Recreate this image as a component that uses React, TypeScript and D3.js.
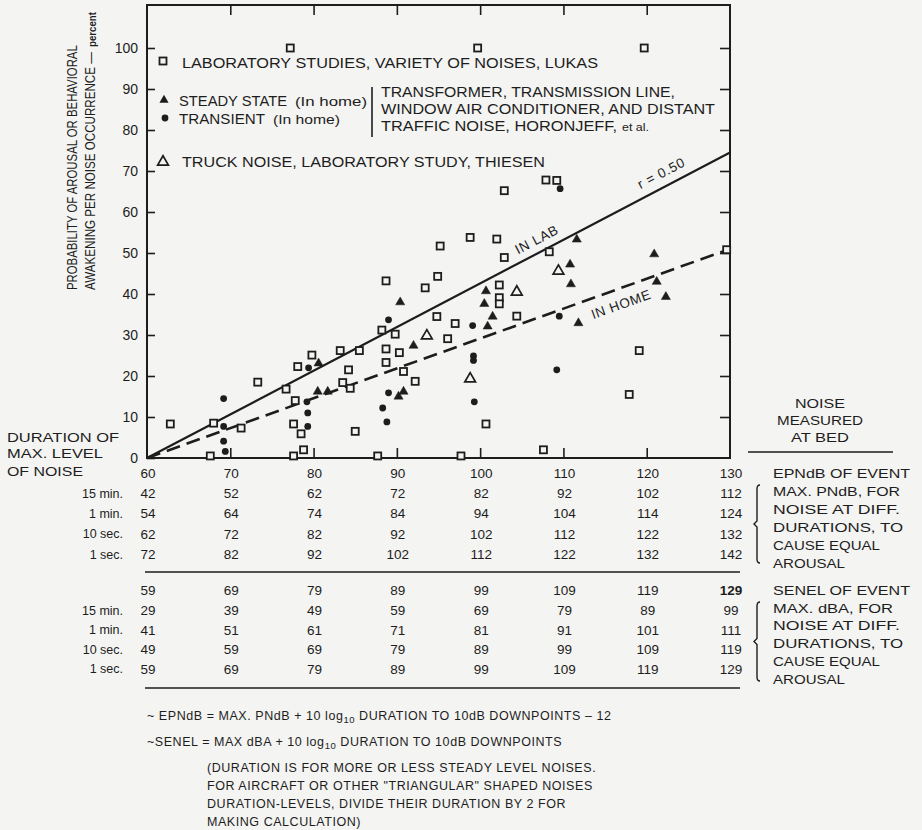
import React, { useEffect, useRef } from 'react';
import * as d3 from 'd3';

const width = 922;
const height = 830;

// EPNdB of event (x) vs. percent aroused (y)
const lukasLab: [number, number][] = [
  [62.8, 8.3], [68.0, 8.5], [71.3, 7.3], [73.3, 18.5], [76.7, 16.8], [77.8, 14.0], [78.1, 22.3],
  [77.6, 8.3], [78.5, 5.9], [78.8, 2.0], [79.8, 25.1], [83.2, 26.2], [84.2, 21.5], [83.5, 18.4],
  [84.4, 17.0], [85.0, 6.5], [85.5, 26.2], [88.7, 43.2], [88.2, 31.2], [88.7, 26.6], [88.7, 23.3],
  [89.8, 30.2], [90.3, 25.7], [90.8, 21.1], [92.2, 18.7], [93.4, 41.5], [94.9, 44.3], [94.8, 34.5],
  [95.2, 51.7], [97.0, 32.8], [96.1, 29.1], [98.8, 53.8], [102.0, 53.4], [102.9, 48.9], [102.3, 42.2],
  [102.3, 39.1], [102.3, 37.6], [104.4, 34.6], [100.7, 8.3], [67.6, 0.5], [77.6, 0.5], [87.7, 0.5],
  [97.7, 0.5], [102.9, 65.2], [107.9, 67.8], [109.2, 67.7], [108.3, 50.3], [119.1, 26.2], [117.9, 15.5],
  [107.6, 2.0], [77.2, 100], [99.7, 100], [119.7, 100], [129.6, 50.8],
];
const steadyHome: [number, number][] = [
  [80.6, 23.1], [80.5, 16.2], [81.7, 16.2], [90.4, 38.0], [92.0, 27.4], [90.8, 16.2], [90.2, 15.0],
  [100.7, 40.7], [100.5, 37.6], [101.5, 34.5], [100.9, 32.1], [111.6, 53.3], [110.8, 47.2],
  [110.9, 42.4], [111.8, 32.9], [120.9, 49.7], [121.2, 43.0], [122.3, 39.3],
];
const transientHome: [number, number][] = [
  [69.2, 14.5], [69.2, 7.7], [69.2, 4.1], [69.4, 1.6], [79.4, 22.0], [79.2, 13.7], [79.3, 11.0],
  [79.3, 7.7], [89.0, 33.7], [89.0, 15.9], [88.3, 12.2], [88.8, 8.8], [99.1, 32.3], [99.2, 24.9],
  [99.2, 23.8], [99.3, 13.7], [109.6, 65.7], [109.5, 34.6], [109.2, 21.5],
];
const truckLab: [number, number][] = [[93.6, 29.8], [104.4, 40.5], [98.8, 19.3], [109.4, 45.6]];

const labFit: [number, number][] = [[60, 0], [130, 74.5]];
const homeFit: [number, number][] = [[60, 0], [130, 51]];

const xTicks = [60, 70, 80, 90, 100, 110, 120, 130];
const yTicks = [0, 10, 20, 30, 40, 50, 60, 70, 80, 90, 100];

const durations = ['15 min.', '1 min.', '10 sec.', '1 sec.'];
const pndbRows = [
  [42, 52, 62, 72, 82, 92, 102, 112],
  [54, 64, 74, 84, 94, 104, 114, 124],
  [62, 72, 82, 92, 102, 112, 122, 132],
  [72, 82, 92, 102, 112, 122, 132, 142],
];
const senelRow = [59, 69, 79, 89, 99, 109, 119, 129];
const dbaRows = [
  [29, 39, 49, 59, 69, 79, 89, 99],
  [41, 51, 61, 71, 81, 91, 101, 111],
  [49, 59, 69, 79, 89, 99, 109, 119],
  [59, 69, 79, 89, 99, 109, 119, 129],
];

const ink = '#1d1d1d';
const paper = '#f4f4f2';
const font = '"Liberation Sans", Arial, Helvetica, sans-serif';

type Opts = { size?: number; anchor?: string; len?: number; weight?: string; rot?: number; ls?: number };

const App: React.FC = () => {
  const ref = useRef<SVGSVGElement>(null);

  useEffect(() => {
    if (!ref.current) return;
    const svg = d3.select(ref.current);
    svg.selectAll('*').remove();

    svg.append('rect').attr('width', width).attr('height', height).attr('fill', paper);

    const x = d3.scaleLinear().domain([60, 130]).range([147, 730]);
    const y = d3.scaleLinear().domain([0, 100]).range([458, 48]);

    const txt = (px: number, py: number, s: string, o: Opts = {}, parent: any = svg) => {
      const t = parent
        .append('text')
        .attr('x', px)
        .attr('y', py)
        .attr('font-family', font)
        .attr('font-size', o.size ?? 13)
        .attr('font-weight', o.weight ?? 'normal')
        .attr('fill', ink)
        .attr('text-anchor', o.anchor ?? 'start')
        .text(s);
      if (o.len) t.attr('textLength', o.len).attr('lengthAdjust', 'spacingAndGlyphs');
      if (o.ls) t.attr('letter-spacing', o.ls);
      if (o.rot) t.attr('transform', `rotate(${o.rot},${px},${py})`);
      return t;
    };

    // vertical text reading upwards from (x0, yBottom), squeezed to a given length
    const vtext = (x0: number, yBottom: number, s: string, size: number, target: number, weight = 'normal') => {
      const g = svg.append('g');
      const t = txt(0, 14, s, { size, weight }, g);
      const len = (t.node() as SVGTextElement).getComputedTextLength();
      const k = target / len;
      g.attr('transform', `translate(${x0},${yBottom}) rotate(-90) scale(${k},1)`);
    };

    // frame
    svg
      .append('rect')
      .attr('x', x(60))
      .attr('y', 5)
      .attr('width', x(130) - x(60))
      .attr('height', y(0) - 5)
      .attr('fill', 'none')
      .attr('stroke', ink)
      .attr('stroke-width', 2);

    const styleAxis = (g: d3.Selection<SVGGElement, unknown, null, undefined>) => {
      g.select('.domain').remove();
      g.selectAll('line').attr('stroke', ink).attr('stroke-width', 1.6);
      g.selectAll('text').attr('fill', ink).attr('font-family', font).attr('font-size', 14);
    };

    svg
      .append('g')
      .attr('transform', `translate(${x(60)},0)`)
      .call(d3.axisLeft(y).tickValues(yTicks).tickSizeInner(-8).tickSizeOuter(0).tickPadding(9))
      .call(styleAxis);
    svg
      .append('g')
      .attr('transform', `translate(${x(130)},0)`)
      .call(d3.axisRight(y).tickValues(yTicks.slice(1)).tickSizeInner(-10).tickSizeOuter(0).tickFormat(() => ''))
      .call(styleAxis);
    const inner = xTicks.slice(1, -1);
    svg
      .append('g')
      .attr('transform', 'translate(0,5)')
      .call(d3.axisTop(x).tickValues(inner).tickSizeInner(-10).tickSizeOuter(0).tickFormat(() => ''))
      .call(styleAxis);
    svg
      .append('g')
      .attr('transform', `translate(0,${y(0)})`)
      .call(d3.axisBottom(x).tickValues(inner).tickSizeInner(-10).tickSizeOuter(0).tickFormat(() => ''))
      .call(styleAxis);

    // fitted lines
    const line = d3
      .line<[number, number]>()
      .x(d => x(d[0]))
      .y(d => y(d[1]));
    svg.append('path').attr('d', line(labFit)).attr('fill', 'none').attr('stroke', ink).attr('stroke-width', 2.2);
    svg
      .append('path')
      .attr('d', line(homeFit))
      .attr('fill', 'none')
      .attr('stroke', ink)
      .attr('stroke-width', 2.6)
      .attr('stroke-dasharray', '14,7');

    const onLine = (fit: [number, number][], xv: number, off: number, s: string) => {
      const [a, b] = fit;
      const ang = Math.atan2(y(b[1]) - y(a[1]), x(b[0]) - x(a[0]));
      const yv = a[1] + ((b[1] - a[1]) * (xv - a[0])) / (b[0] - a[0]);
      const px = x(xv) + Math.sin(ang) * off;
      const py = y(yv) - Math.cos(ang) * off;
      txt(px, py, s, { size: 13.5, anchor: 'middle', rot: (ang * 180) / Math.PI, ls: 0.7 });
    };
    onLine(labFit, 122.5, 9, 'r = 0.50');
    onLine(labFit, 107.5, 8, 'IN LAB');
    onLine(homeFit, 116.3, -20, 'IN HOME');

    // markers
    const sq = 7;
    const drawSquares = (pts: [number, number][]) =>
      svg
        .append('g')
        .selectAll('rect')
        .data(pts)
        .enter()
        .append('rect')
        .attr('x', d => x(d[0]) - sq / 2)
        .attr('y', d => y(d[1]) - sq / 2)
        .attr('width', sq)
        .attr('height', sq)
        .attr('fill', paper)
        .attr('stroke', ink)
        .attr('stroke-width', 1.8);
    const tri = d3.symbol(d3.symbolTriangle, 36);
    const triOpen = d3.symbol(d3.symbolTriangle, 50);
    const drawTris = (pts: [number, number][], filled: boolean) =>
      svg
        .append('g')
        .selectAll('path')
        .data(pts)
        .enter()
        .append('path')
        .attr('d', filled ? tri() : triOpen())
        .attr('transform', d => `translate(${x(d[0])},${y(d[1])})`)
        .attr('fill', filled ? ink : paper)
        .attr('stroke', ink)
        .attr('stroke-width', filled ? 0.5 : 1.7);
    const drawDots = (pts: [number, number][]) =>
      svg
        .append('g')
        .selectAll('circle')
        .data(pts)
        .enter()
        .append('circle')
        .attr('cx', d => x(d[0]))
        .attr('cy', d => y(d[1]))
        .attr('r', 3.4)
        .attr('fill', ink);

    drawSquares(lukasLab);
    drawTris(truckLab, false);
    drawTris(steadyHome, true);
    drawDots(transientHome);

    // legend inside plot
    svg.append('rect').attr('x', 163 - sq / 2).attr('y', 61 - sq / 2).attr('width', sq).attr('height', sq)
      .attr('fill', paper).attr('stroke', ink).attr('stroke-width', 1.8);
    txt(182, 68, 'LABORATORY STUDIES, VARIETY OF NOISES, LUKAS', { size: 15, len: 416 });
    svg.append('path').attr('d', tri()).attr('transform', 'translate(164,100)').attr('fill', ink);
    txt(179, 106, 'STEADY STATE', { size: 15, len: 108 });
    txt(295, 106, '(In home)', { size: 13, len: 72 });
    svg.append('circle').attr('cx', 165).attr('cy', 118).attr('r', 3.4).attr('fill', ink);
    txt(179, 124, 'TRANSIENT', { size: 15, len: 86 });
    txt(273, 124, '(In home)', { size: 13, len: 67 });
    svg.append('line').attr('x1', 372).attr('x2', 372).attr('y1', 87).attr('y2', 137)
      .attr('stroke', ink).attr('stroke-width', 1.6);
    txt(381, 97, 'TRANSFORMER, TRANSMISSION LINE,', { size: 15, len: 294 });
    txt(381, 114, 'WINDOW AIR CONDITIONER, AND DISTANT', { size: 15, len: 334 });
    txt(381, 131, 'TRAFFIC NOISE, HORONJEFF,', { size: 15, len: 236 });
    txt(622, 131, 'et al.', { size: 11, len: 27 });
    svg.append('path').attr('d', triOpen()).attr('transform', 'translate(163,162)').attr('fill', paper)
      .attr('stroke', ink).attr('stroke-width', 1.7);
    txt(182, 167, 'TRUCK NOISE, LABORATORY STUDY, THIESEN', { size: 15, len: 363 });

    // y-axis title
    vtext(63, 290, 'PROBABILITY OF AROUSAL OR BEHAVIORAL', 15, 245);
    vtext(81, 290, 'AWAKENING PER NOISE OCCURRENCE —', 15, 238);
    vtext(82, 47, 'percent', 11, 35, 'bold');

    // table under the plot
    const colX = (i: number) => x(xTicks[i]) + 1;
    const numRow = (vals: number[], cy: number, boldLast = false) =>
      vals.forEach((v, i) =>
        txt(colX(i), cy, String(v), {
          size: 13.5,
          anchor: 'middle',
          weight: boldLast && i === vals.length - 1 ? 'bold' : 'normal',
        }).attr('dy', '0.36em'),
      );

    const top0 = 473;
    const topStep = 20.3;
    const bot0 = 590.5;
    const botStep = 19.6;

    numRow(xTicks, top0);
    pndbRows.forEach((r, i) => numRow(r, top0 + (i + 1) * topStep));
    numRow(senelRow, bot0, true);
    dbaRows.forEach((r, i) => numRow(r, bot0 + (i + 1) * botStep));

    durations.forEach((d, i) => {
      txt(123, top0 + (i + 1) * topStep, d, { size: 12.5, anchor: 'end' }).attr('dy', '0.36em');
      txt(123, bot0 + (i + 1) * botStep, d, { size: 12.5, anchor: 'end' }).attr('dy', '0.36em');
    });

    txt(7, 442, 'DURATION OF', { size: 13, len: 112 });
    txt(7, 458, 'MAX. LEVEL', { size: 13, len: 96 });
    txt(7, 476, 'OF NOISE', { size: 13, len: 76 });

    const hr = (yy: number, x1: number, x2: number) =>
      svg.append('line').attr('x1', x1).attr('x2', x2).attr('y1', yy).attr('y2', yy)
        .attr('stroke', ink).attr('stroke-width', 1.6);
    hr(572, 145, 740);
    hr(688, 145, 740);
    hr(452, 748, 893);

    txt(820, 408, 'NOISE', { size: 13, anchor: 'middle', len: 50 });
    txt(820, 425, 'MEASURED', { size: 13, anchor: 'middle', len: 86 });
    txt(820, 442, 'AT BED', { size: 13, anchor: 'middle', len: 58 });

    txt(773, top0, 'EPNdB OF EVENT', { size: 13, len: 137 }).attr('dy', '0.36em');
    const rightA = ['MAX. PNdB, FOR', 'NOISE AT DIFF.', 'DURATIONS, TO', 'CAUSE EQUAL', 'AROUSAL'];
    const lensA = [127, 127, 130, 107, 72];
    rightA.forEach((s, i) => txt(773, 491 + i * 18, s, { size: 13, len: lensA[i] }).attr('dy', '0.36em'));
    txt(773, bot0, 'SENEL OF EVENT', { size: 13, len: 137 }).attr('dy', '0.36em');
    const rightB = ['MAX. dBA, FOR', 'NOISE AT DIFF.', 'DURATIONS, TO', 'CAUSE EQUAL', 'AROUSAL'];
    const lensB = [120, 127, 130, 107, 72];
    rightB.forEach((s, i) => txt(773, 608 + i * 17.8, s, { size: 13, len: lensB[i] }).attr('dy', '0.36em'));

    const bracket = (y1: number, y2: number) => {
      const m = (y1 + y2) / 2;
      svg
        .append('path')
        .attr('d', `M760,${y1} Q757,${y1} 757,${y1 + 4} L757,${m - 3} L754,${m} L757,${m + 3} L757,${y2 - 4} Q757,${y2} 760,${y2}`)
        .attr('fill', 'none')
        .attr('stroke', ink)
        .attr('stroke-width', 1.4);
    };
    bracket(485, 563);
    bracket(602, 681);

    // footnotes
    const foot = (px: number, py: number, parts: [string, boolean][]) => {
      const t = svg
        .append('text')
        .attr('x', px)
        .attr('y', py)
        .attr('font-family', font)
        .attr('font-size', 12.5)
        .attr('letter-spacing', 0.55)
        .attr('fill', ink);
      parts.forEach(([s, sub]) => {
        const sp = t.append('tspan').text(s);
        if (sub) sp.attr('font-size', 9.5).attr('dy', 3);
        else if (t.selectAll('tspan').size() > 1) sp.attr('dy', -3);
      });
    };
    foot(147, 720, [['~ EPNdB = MAX. PNdB + 10 log', false], ['10', true], [' DURATION TO 10dB DOWNPOINTS – 12', false]]);
    foot(147, 746, [['~SENEL = MAX dBA + 10 log', false], ['10', true], [' DURATION TO 10dB DOWNPOINTS', false]]);
    foot(207, 772, [['(DURATION IS FOR MORE OR LESS STEADY LEVEL NOISES.', false]]);
    foot(207, 790, [['FOR AIRCRAFT OR OTHER "TRIANGULAR" SHAPED NOISES', false]]);
    foot(207, 808, [['DURATION-LEVELS, DIVIDE THEIR DURATION BY 2 FOR', false]]);
    foot(207, 826, [['MAKING CALCULATION)', false]]);
  }, []);

  return (
    <svg
      ref={ref}
      width={width}
      height={height}
      style={{ position: 'absolute', left: 0, top: 0, display: 'block' }}
    />
  );
};

export default App;
